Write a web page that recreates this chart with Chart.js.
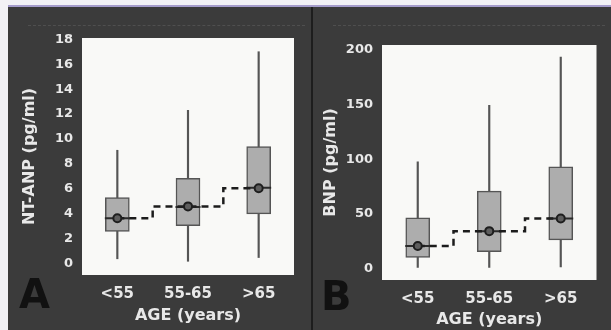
<!DOCTYPE html>
<html>
<head>
<meta charset="utf-8">
<script src="https://cdn.jsdelivr.net/npm/chart.js@4/dist/chart.umd.min.js"></script>
<style>
  body { margin: 0; width: 611px; height: 330px; background: #f2f1f5; position: relative; overflow: hidden; }
  .topline { position: absolute; left: 8px; top: 5px; width: 603px; height: 2px; background: #a59ccb; }
  .panel { position: absolute; top: 7px; height: 323px; background: #3b3b3b; }
  .panel .deco { position: absolute; left: 20px; right: 6px; top: 18px; height: 0; border-top: 1px dashed rgba(255,255,255,0.1); }
  .sep { position: absolute; left: 311px; top: 7px; width: 2px; height: 323px; background: #1d1d1d; }
  .letter { position: absolute; font-family: 'DejaVu Sans', sans-serif; font-weight: bold; font-size: 40px; color: #111; line-height: 1; }
  canvas { position: absolute; left: 0; top: 0; }
</style>
</head>
<body>
<div class="topline"></div>
<div class="panel" style="left:8px;width:303px;">
  <div class="deco"></div>
  <canvas id="chartA" width="303" height="323"></canvas>
  <div class="letter" style="left:11px;top:267px;">A</div>
</div>
<div class="sep"></div>
<div class="panel" style="left:313px;width:298px;">
  <div class="deco"></div>
  <canvas id="chartB" width="298" height="323"></canvas>
  <div class="letter" style="left:8px;top:269px;">B</div>
</div>
<script>
const ageGroups = ['<55', '55-65', '>65'];

// panel A: NT-ANP (pg/ml)
const antpMin = [0.4, 0.2, 0.5];
const antpQ1 = [2.6, 3.05, 4.0];
const antpMedian = [3.65, 4.55, 6.1];
const antpQ3 = [5.3, 6.85, 9.4];
const antpMax = [9.1, 12.3, 17.0];
const antpMean = [3.65, 4.6, 6.05];
const antpTicks = [0, 2, 4, 6, 8, 10, 12, 14, 16, 18];

// panel B: BNP (pg/ml)
const bnpMin = [1.5, 1.5, 2];
const bnpQ1 = [10.6, 15.7, 26.5];
const bnpMedian = [21, 34.5, 46];
const bnpQ3 = [46.7, 71, 93];
const bnpMax = [97.5, 149, 193];
const bnpMean = [21, 34.5, 46];
const bnpTicks = [0, 50, 100, 150, 200];

const fontFamily = "'DejaVu Sans', sans-serif";
const textColor = '#e8e8e8';

// white plot area
const plotBackground = {
    id: 'plotBackground',
    beforeDraw(chart) {
        const { ctx, chartArea } = chart;
        ctx.save();
        ctx.fillStyle = '#f9f9f7';
        ctx.fillRect(chartArea.left, chartArea.top, chartArea.right - chartArea.left, chartArea.bottom - chartArea.top);
        ctx.restore();
    }
};

const makeBoxChart = (canvasId, cfg) => {
    const ctx = document.getElementById(canvasId).getContext('2d');
    return new Chart(ctx, {
        type: 'bar',
        data: {
            labels: ageGroups,
            datasets: [
                {
                    // means
                    type: 'line',
                    data: cfg.mean,
                    showLine: false,
                    pointStyle: 'circle',
                    pointRadius: 4,
                    pointBackgroundColor: '#5e5e5e',
                    pointBorderColor: '#1e1e1e',
                    pointBorderWidth: 2,
                    order: 0
                },
                {
                    // dashed step through the means
                    type: 'line',
                    data: cfg.mean,
                    stepped: 'middle',
                    borderColor: '#1c1c1c',
                    borderWidth: 2.5,
                    borderDash: [7, 5],
                    pointRadius: 0,
                    order: 1
                },
                {
                    // medians
                    type: 'line',
                    data: cfg.median,
                    showLine: false,
                    pointStyle: 'line',
                    pointRadius: 12.5,
                    pointBorderColor: '#2a2a2a',
                    pointBorderWidth: 2,
                    order: 2
                },
                {
                    // boxes q1..q3
                    data: cfg.q1.map((v, i) => [v, cfg.q3[i]]),
                    backgroundColor: '#adadad',
                    borderColor: '#555',
                    borderWidth: 1.5,
                    borderSkipped: false,
                    barThickness: 24,
                    grouped: false,
                    order: 3
                },
                {
                    // whiskers min..max
                    data: cfg.min.map((v, i) => [v, cfg.max[i]]),
                    backgroundColor: '#555',
                    barThickness: 1.5,
                    grouped: false,
                    order: 4
                }
            ]
        },
        options: {
            responsive: false,
            animation: false,
            layout: { padding: { left: 0, top: cfg.top, right: cfg.right, bottom: 0 } },
            plugins: {
                legend: { display: false },
                tooltip: { enabled: false }
            },
            scales: {
                x: {
                    grid: { display: false, drawTicks: false },
                    border: { display: false },
                    ticks: {
                        color: textColor,
                        padding: 10,
                        font: { family: fontFamily, size: 15, weight: 'bold' }
                    },
                    title: {
                        display: true,
                        text: 'AGE (years)',
                        color: textColor,
                        padding: { top: 0, bottom: cfg.xTitlePad },
                        font: { family: fontFamily, size: 16, weight: 'bold' }
                    },
                    afterFit: (scale) => { scale.height = cfg.xHeight; }
                },
                y: {
                    min: cfg.yMin,
                    max: cfg.yMax,
                    grid: { display: false, drawTicks: false },
                    border: { display: false },
                    afterBuildTicks: (scale) => { scale.ticks = cfg.ticks.map(v => ({ value: v })); },
                    ticks: {
                        color: textColor,
                        padding: 9,
                        font: { family: fontFamily, size: 13, weight: 'bold' }
                    },
                    title: {
                        display: true,
                        text: cfg.yTitle,
                        color: textColor,
                        padding: { top: cfg.yTitlePad, bottom: 0 },
                        font: { family: fontFamily, size: 16, weight: 'bold' }
                    },
                    afterFit: (scale) => { scale.width = cfg.yWidth; }
                }
            }
        },
        plugins: [plotBackground]
    });
};

makeBoxChart('chartA', {
    min: antpMin, q1: antpQ1, median: antpMedian, q3: antpQ3, max: antpMax, mean: antpMean,
    ticks: antpTicks, yMin: -0.9, yMax: 18.1, yTitle: 'NT-ANP (pg/ml)',
    top: 31, right: 17, yWidth: 74, xHeight: 55, yTitlePad: 12, xTitlePad: 5
});

makeBoxChart('chartB', {
    min: bnpMin, q1: bnpQ1, median: bnpMedian, q3: bnpQ3, max: bnpMax, mean: bnpMean,
    ticks: bnpTicks, yMin: -10, yMax: 204, yTitle: 'BNP (pg/ml)',
    top: 38, right: 10, yWidth: 69, xHeight: 50, yTitlePad: 8, xTitlePad: 1
});
</script>
</body>
</html>
